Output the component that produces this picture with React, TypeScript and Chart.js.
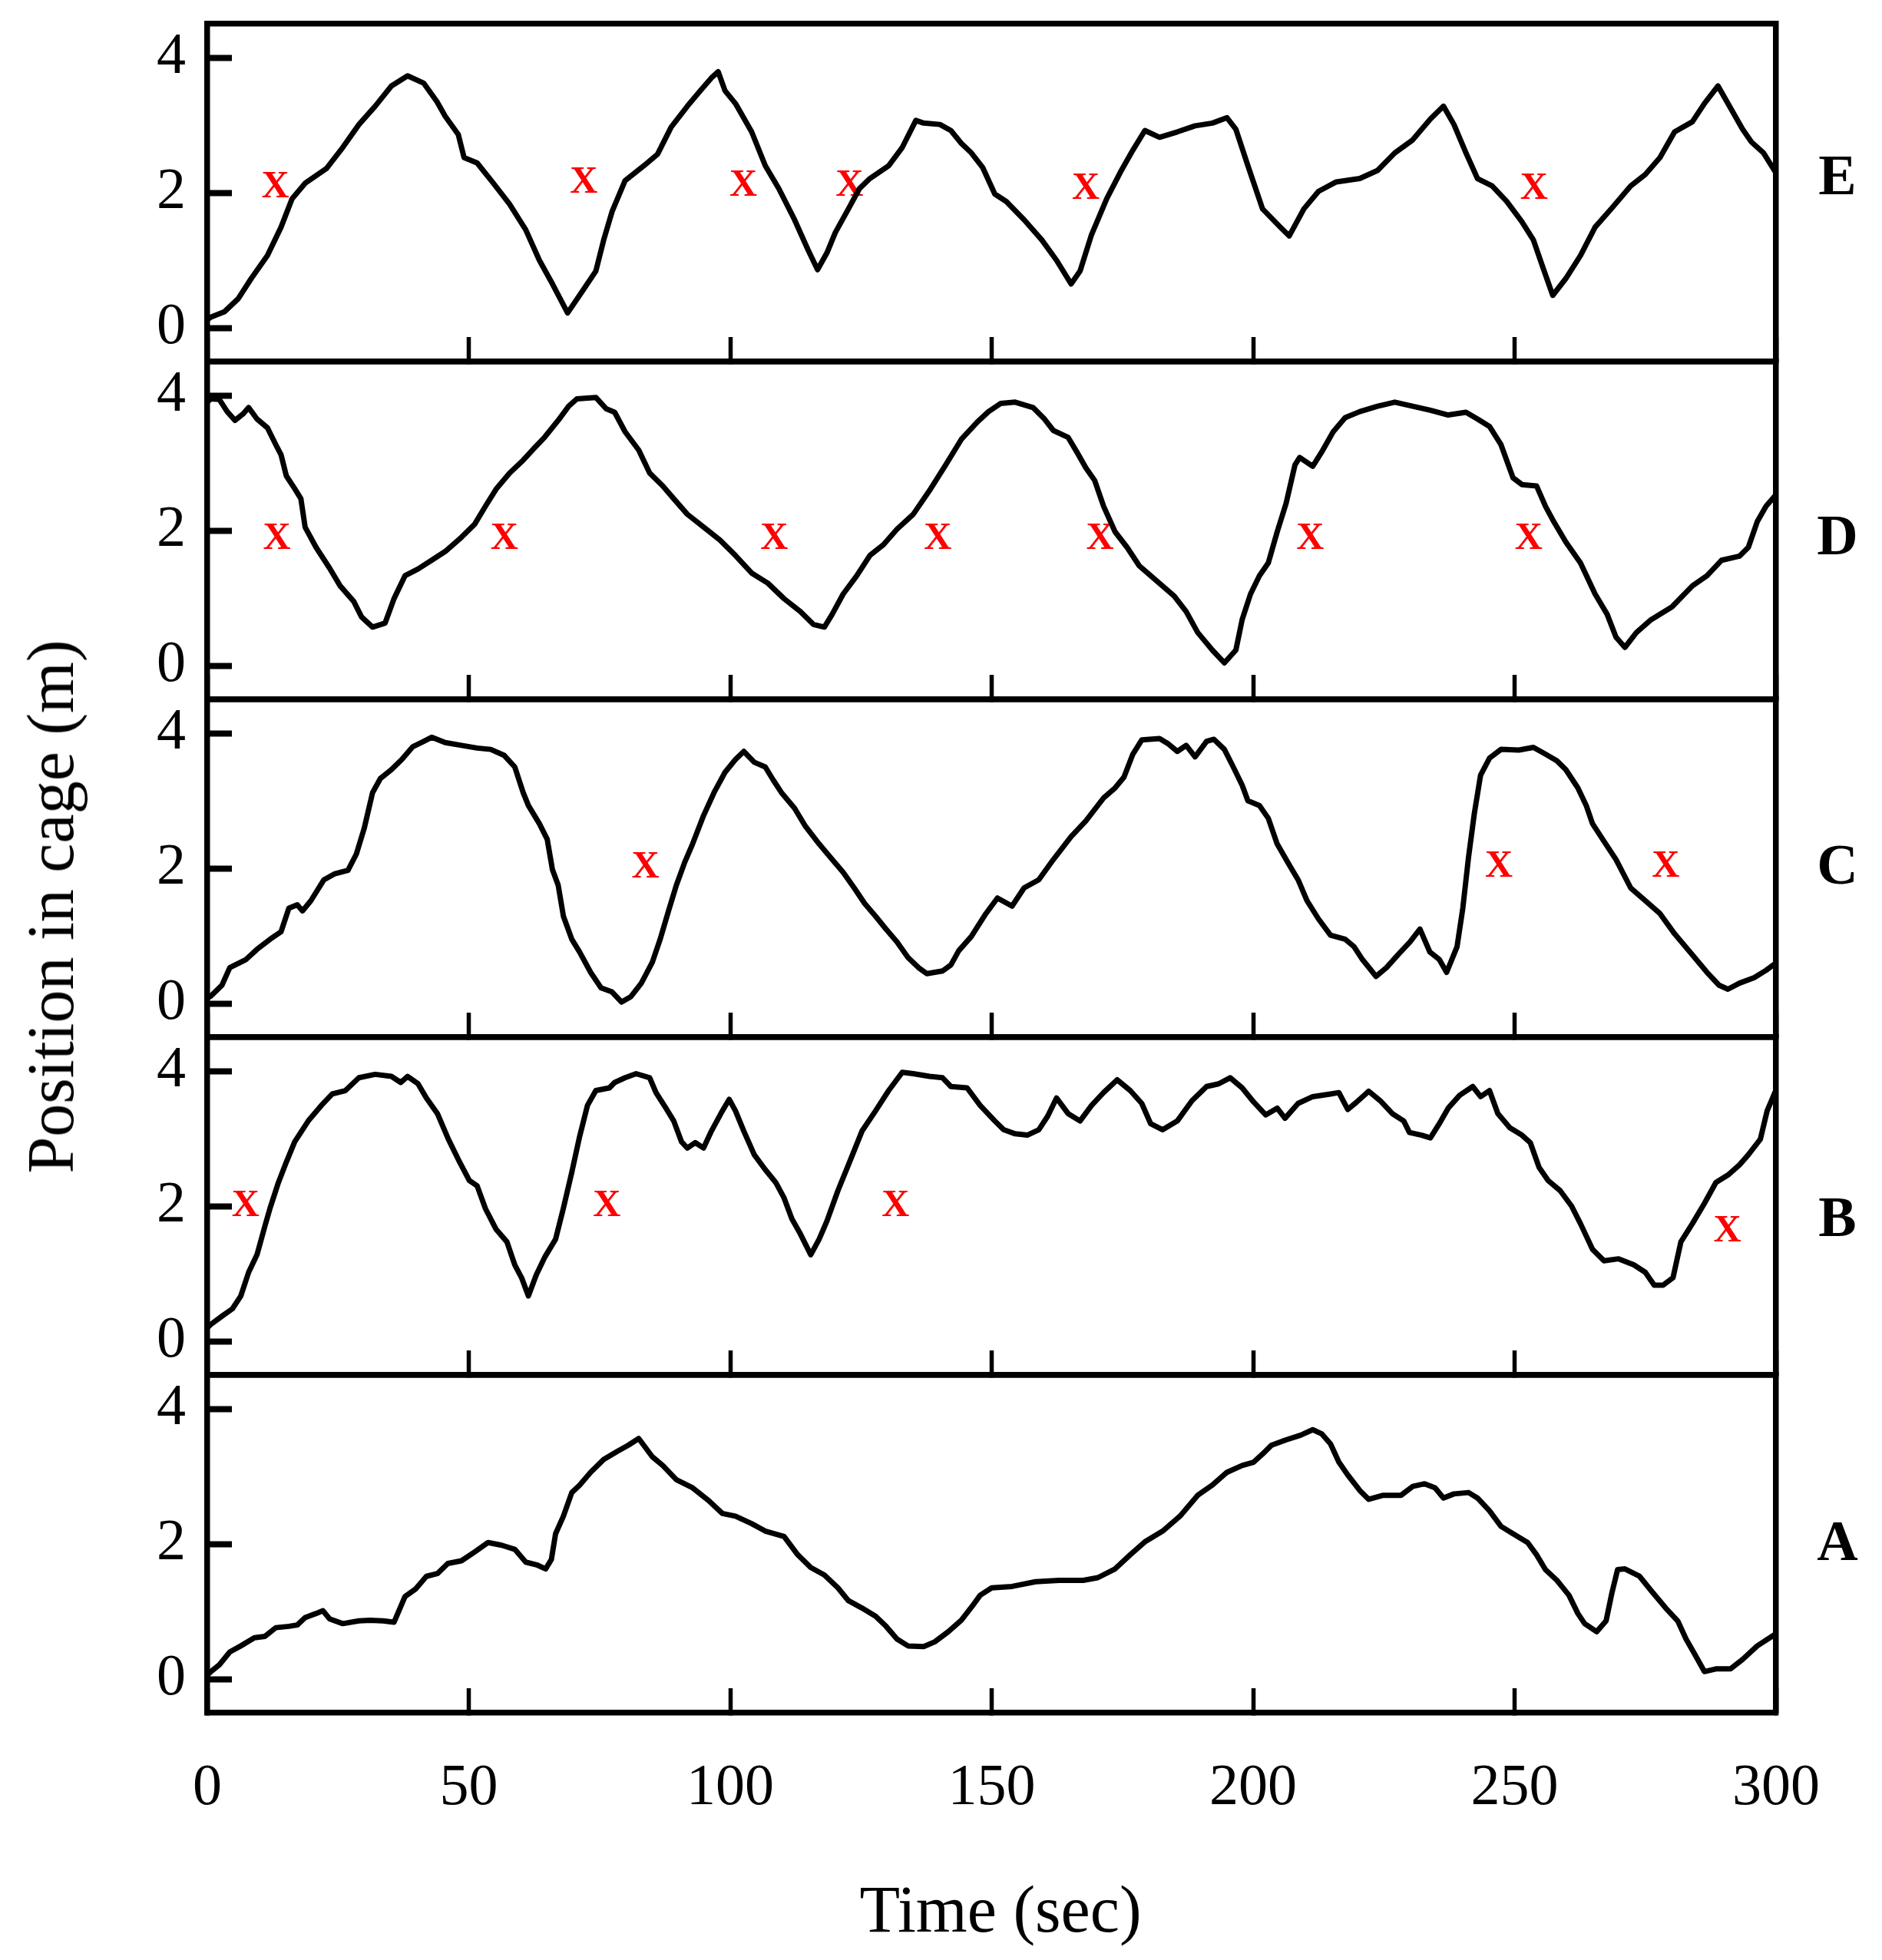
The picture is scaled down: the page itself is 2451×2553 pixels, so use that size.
import React, { useEffect, useRef } from 'react';
import { Chart, registerables } from 'chart.js';

Chart.register(...registerables);

// ---- data: [time (s), position in cage (m)] ----
const timeTicks = [0, 50, 100, 150, 200, 250, 300];
const positionTicks = [0, 2, 4];

const traceE: number[][] = [
  [0, 0.12], [0.7, 0.16], [3.3, 0.24], [5.9, 0.43], [8.4, 0.73], [11.5, 1.07], [14.1, 1.49], [16.2, 1.91],
  [18.7, 2.14], [22.8, 2.36], [25.9, 2.67], [29.0, 3.01], [32.1, 3.28], [35.2, 3.58], [38.3, 3.73], [41.4, 3.62],
  [43.9, 3.35], [45.5, 3.13], [48.0, 2.86], [49.1, 2.52], [51.6, 2.44], [54.7, 2.14], [57.8, 1.83], [60.9, 1.45],
  [63.5, 1.0], [66.0, 0.65], [68.9, 0.22], [71.7, 0.54], [74.3, 0.84], [75.8, 1.3], [77.4, 1.72], [79.9, 2.18],
  [83.5, 2.4], [86.1, 2.57], [88.7, 2.97], [91.8, 3.28], [94.3, 3.51], [96.4, 3.7], [97.7, 3.79], [99.0, 3.51],
  [101.0, 3.32], [104.1, 2.9], [106.7, 2.4], [109.3, 2.06], [112.3, 1.6], [114.9, 1.15], [116.7, 0.86], [118.5, 1.11],
  [120.1, 1.41], [122.6, 1.76], [124.7, 2.06], [126.7, 2.21], [130.3, 2.4], [132.9, 2.67], [135.5, 3.07], [137.0, 3.03],
  [140.1, 3.01], [142.2, 2.92], [144.2, 2.73], [146.1, 2.59], [148.3, 2.37], [150.6, 1.98], [152.8, 1.87], [156.2, 1.6],
  [159.6, 1.3], [162.4, 1.0], [165.2, 0.65], [166.9, 0.84], [169.1, 1.38], [172.0, 1.91], [174.8, 2.33], [177.0, 2.63],
  [179.3, 2.92], [182.1, 2.82], [185.5, 2.9], [188.9, 2.99], [192.2, 3.03], [195.0, 3.11], [196.7, 2.94], [199.0, 2.4],
  [201.8, 1.76], [205.2, 1.49], [206.9, 1.36], [209.7, 1.76], [212.5, 2.02], [215.9, 2.16], [220.4, 2.21], [223.8, 2.33],
  [227.1, 2.59], [230.5, 2.78], [233.9, 3.09], [236.4, 3.28], [238.4, 3.01], [240.7, 2.59], [242.9, 2.21], [245.7, 2.1],
  [248.5, 1.87], [251.4, 1.57], [253.6, 1.3], [255.3, 0.92], [257.3, 0.48], [259.8, 0.73], [262.6, 1.07], [265.4, 1.49],
  [268.8, 1.79], [272.2, 2.1], [275.0, 2.27], [277.8, 2.52], [280.6, 2.9], [284.0, 3.05], [286.3, 3.32], [288.9, 3.58],
  [290.8, 3.32], [293.6, 2.94], [295.3, 2.75], [297.6, 2.59], [300, 2.29],
];

const traceD: number[][] = [
  [0, 3.9], [0.7, 3.95], [2.3, 3.94], [3.8, 3.76], [5.3, 3.63], [6.9, 3.73], [7.9, 3.82], [9.5, 3.65],
  [11.5, 3.52], [13.1, 3.27], [14.1, 3.12], [15.1, 2.81], [16.7, 2.62], [17.9, 2.47], [18.7, 2.05], [20.8, 1.75],
  [23.4, 1.44], [25.4, 1.18], [28.0, 0.95], [29.5, 0.72], [31.6, 0.57], [34.0, 0.63], [35.7, 0.99], [37.8, 1.33],
  [40.3, 1.43], [42.9, 1.56], [45.5, 1.69], [48.6, 1.9], [51.1, 2.09], [53.2, 2.36], [55.3, 2.62], [57.8, 2.85],
  [60.4, 3.04], [62.4, 3.21], [64.5, 3.38], [67.1, 3.63], [69.1, 3.84], [70.7, 3.95], [74.3, 3.97], [76.3, 3.8],
  [77.9, 3.75], [79.9, 3.46], [82.5, 3.19], [84.6, 2.85], [87.1, 2.66], [89.2, 2.47], [91.8, 2.24], [94.9, 2.05],
  [98.0, 1.86], [101.0, 1.63], [104.1, 1.37], [107.2, 1.22], [110.3, 0.99], [113.4, 0.8], [115.9, 0.61], [118.0, 0.57],
  [119.5, 0.76], [121.6, 1.06], [124.2, 1.33], [126.7, 1.63], [129.3, 1.79], [131.9, 2.02], [135.0, 2.24], [138.1, 2.59],
  [141.2, 2.97], [144.2, 3.35], [147.3, 3.61], [149.4, 3.76], [151.7, 3.88], [154.5, 3.9], [157.9, 3.82], [160.1, 3.65],
  [161.8, 3.48], [164.6, 3.38], [166.3, 3.16], [168.0, 2.93], [169.7, 2.74], [171.4, 2.36], [173.6, 1.98], [175.9, 1.75],
  [178.2, 1.48], [181.0, 1.29], [184.9, 1.03], [187.2, 0.8], [189.4, 0.49], [192.2, 0.23], [194.5, 0.04], [196.7, 0.23],
  [197.9, 0.68], [199.5, 1.06], [201.2, 1.33], [202.9, 1.52], [204.6, 1.98], [206.3, 2.4], [208.0, 2.97], [208.9, 3.08],
  [211.4, 2.95], [213.1, 3.16], [215.3, 3.46], [217.6, 3.67], [220.4, 3.76], [223.8, 3.84], [227.1, 3.9], [230.5, 3.84],
  [233.9, 3.78], [237.3, 3.71], [240.7, 3.75], [242.9, 3.65], [245.2, 3.54], [247.4, 3.27], [249.7, 2.78], [251.4, 2.68],
  [254.2, 2.66], [255.9, 2.36], [257.5, 2.13], [259.8, 1.83], [262.6, 1.52], [265.4, 1.06], [267.7, 0.76], [269.4, 0.42],
  [271.1, 0.27], [273.3, 0.49], [276.1, 0.68], [280.1, 0.87], [284.0, 1.18], [286.8, 1.33], [289.6, 1.56], [293.0, 1.62],
  [294.7, 1.75], [296.4, 2.13], [298.1, 2.36], [300, 2.53],
];

const traceC: number[][] = [
  [0, 0.08], [0.7, 0.11], [2.8, 0.27], [4.3, 0.53], [7.4, 0.65], [9.5, 0.8], [12.0, 0.95], [14.1, 1.06],
  [15.6, 1.41], [17.2, 1.46], [18.2, 1.37], [19.8, 1.52], [22.3, 1.83], [24.4, 1.92], [26.9, 1.97], [28.5, 2.21],
  [30.0, 2.59], [31.6, 3.12], [33.1, 3.33], [35.2, 3.46], [37.2, 3.61], [39.3, 3.8], [41.4, 3.88], [42.9, 3.94],
  [45.5, 3.86], [48.6, 3.82], [51.6, 3.78], [54.2, 3.76], [56.8, 3.67], [58.8, 3.5], [60.4, 3.12], [61.4, 2.93],
  [63.5, 2.66], [65.0, 2.43], [66.0, 1.98], [67.1, 1.75], [68.1, 1.29], [69.7, 0.95], [71.2, 0.76], [73.3, 0.46],
  [75.3, 0.23], [77.4, 0.17], [79.2, 0.02], [81.0, 0.1], [83.0, 0.3], [85.1, 0.61], [86.6, 0.95], [88.2, 1.37],
  [89.7, 1.75], [91.3, 2.09], [92.8, 2.36], [94.9, 2.78], [96.9, 3.12], [99.0, 3.42], [101.0, 3.61], [102.6, 3.73],
  [104.6, 3.57], [106.7, 3.5], [108.2, 3.31], [109.8, 3.12], [112.3, 2.89], [114.4, 2.62], [117.0, 2.36], [119.5, 2.13],
  [121.6, 1.94], [123.7, 1.71], [125.7, 1.48], [127.8, 1.29], [129.8, 1.1], [131.9, 0.91], [134.0, 0.68], [136.0, 0.53],
  [137.6, 0.44], [140.6, 0.48], [142.2, 0.57], [143.7, 0.78], [146.1, 0.99], [148.9, 1.33], [151.1, 1.56], [153.9, 1.44],
  [156.2, 1.71], [159.0, 1.83], [161.8, 2.13], [165.2, 2.47], [168.0, 2.7], [171.4, 3.04], [173.6, 3.19], [175.3, 3.35],
  [177.0, 3.69], [178.7, 3.9], [182.1, 3.92], [183.8, 3.84], [185.5, 3.73], [187.2, 3.82], [188.9, 3.65], [191.1, 3.88],
  [192.5, 3.91], [194.5, 3.76], [196.2, 3.5], [197.9, 3.23], [199.0, 3.0], [201.2, 2.93], [202.9, 2.74], [204.6, 2.36],
  [206.9, 2.05], [208.6, 1.83], [210.3, 1.52], [212.5, 1.25], [214.8, 1.01], [217.6, 0.95], [219.3, 0.84], [220.9, 0.65],
  [223.5, 0.4], [225.5, 0.53], [227.7, 0.72], [230.0, 0.91], [231.9, 1.1], [233.8, 0.76], [235.6, 0.65], [237.0, 0.46],
  [239.0, 0.84], [240.1, 1.41], [241.2, 2.17], [242.3, 2.81], [243.5, 3.38], [245.2, 3.63], [247.4, 3.76], [250.8, 3.75],
  [253.6, 3.79], [255.9, 3.69], [258.1, 3.59], [259.8, 3.46], [262.1, 3.19], [263.7, 2.93], [264.9, 2.66], [267.1, 2.4],
  [269.4, 2.13], [272.2, 1.71], [274.4, 1.56], [277.8, 1.33], [280.6, 1.03], [284.0, 0.72], [286.8, 0.46], [289.1, 0.27],
  [290.8, 0.21], [293.0, 0.3], [295.8, 0.38], [298.1, 0.49], [300, 0.6],
];

const traceB: number[][] = [
  [0, 0.2], [0.7, 0.25], [2.8, 0.37], [4.8, 0.48], [6.4, 0.67], [7.9, 1.02], [9.5, 1.28], [11.0, 1.7],
  [12.0, 1.97], [13.6, 2.35], [15.1, 2.65], [16.7, 2.95], [19.3, 3.26], [21.8, 3.49], [23.9, 3.66], [26.4, 3.71],
  [29.0, 3.9], [32.1, 3.95], [35.2, 3.92], [37.0, 3.83], [38.3, 3.92], [40.3, 3.81], [41.9, 3.6], [44.0, 3.37],
  [46.1, 2.99], [48.0, 2.69], [50.1, 2.38], [51.6, 2.3], [53.2, 1.96], [55.2, 1.66], [57.3, 1.47], [58.8, 1.13],
  [60.1, 0.94], [61.4, 0.67], [62.9, 0.98], [64.5, 1.24], [66.6, 1.51], [68.1, 1.97], [69.7, 2.5], [71.2, 3.03],
  [72.7, 3.49], [74.3, 3.71], [76.9, 3.75], [77.9, 3.83], [79.9, 3.9], [82.0, 3.96], [84.6, 3.9], [85.8, 3.68],
  [87.7, 3.45], [89.2, 3.26], [90.7, 2.95], [91.8, 2.86], [93.3, 2.94], [94.9, 2.86], [96.4, 3.11], [98.5, 3.41],
  [99.8, 3.58], [101.0, 3.41], [102.6, 3.11], [104.6, 2.76], [106.7, 2.54], [108.7, 2.35], [110.3, 2.12], [111.8, 1.81],
  [113.4, 1.59], [115.4, 1.28], [117.0, 1.51], [118.5, 1.78], [120.6, 2.23], [122.6, 2.61], [125.2, 3.11], [127.8, 3.41],
  [130.3, 3.71], [132.9, 3.98], [135.0, 3.96], [138.1, 3.92], [140.6, 3.9], [142.2, 3.77], [145.3, 3.75], [147.8, 3.49],
  [150.6, 3.26], [152.3, 3.13], [154.5, 3.07], [156.8, 3.05], [159.0, 3.13], [160.7, 3.33], [162.4, 3.6], [164.6, 3.37],
  [166.9, 3.26], [169.1, 3.49], [171.4, 3.68], [174.0, 3.87], [176.5, 3.71], [178.7, 3.52], [180.4, 3.22], [182.7, 3.13],
  [185.5, 3.26], [188.3, 3.56], [191.1, 3.77], [193.4, 3.81], [195.6, 3.9], [197.9, 3.75], [200.1, 3.54], [202.4, 3.35],
  [204.6, 3.45], [206.1, 3.3], [208.6, 3.52], [211.4, 3.62], [214.8, 3.66], [216.4, 3.68], [218.1, 3.43], [219.8, 3.54],
  [222.1, 3.7], [224.3, 3.56], [226.6, 3.37], [228.8, 3.26], [229.9, 3.09], [232.2, 3.05], [233.9, 3.01], [235.6, 3.22],
  [237.3, 3.45], [239.5, 3.64], [242.0, 3.77], [243.5, 3.62], [245.2, 3.71], [246.8, 3.37], [249.1, 3.16], [251.4, 3.05],
  [253.0, 2.94], [254.7, 2.57], [256.4, 2.38], [258.7, 2.23], [260.9, 2.0], [262.6, 1.74], [264.9, 1.36], [267.1, 1.19],
  [269.9, 1.22], [272.8, 1.13], [275.0, 1.02], [276.7, 0.83], [278.4, 0.83], [280.3, 0.94], [281.8, 1.47], [284.0, 1.74],
  [286.3, 2.04], [288.5, 2.35], [290.8, 2.46], [293.0, 2.61], [294.7, 2.76], [297.0, 2.99], [298.3, 3.41], [300, 3.72],
];

const traceA: number[][] = [
  [0, 0.06], [0.7, 0.11], [2.3, 0.21], [4.3, 0.4], [6.4, 0.49], [9.0, 0.61], [11.0, 0.63], [13.1, 0.76],
  [15.6, 0.78], [17.2, 0.8], [18.7, 0.91], [20.8, 0.97], [22.1, 1.01], [23.4, 0.89], [25.9, 0.82], [29.0, 0.86],
  [31.1, 0.87], [33.6, 0.86], [35.7, 0.84], [37.8, 1.22], [39.8, 1.33], [41.9, 1.52], [44.0, 1.56], [46.0, 1.71],
  [48.6, 1.75], [51.1, 1.88], [53.7, 2.02], [56.3, 1.98], [58.8, 1.92], [60.9, 1.73], [63.0, 1.69], [64.7, 1.63],
  [65.8, 1.77], [66.6, 2.15], [68.1, 2.41], [69.7, 2.76], [71.2, 2.87], [73.3, 3.06], [75.8, 3.25], [78.4, 3.37],
  [80.5, 3.46], [82.5, 3.56], [85.1, 3.29], [87.1, 3.16], [89.7, 2.95], [92.8, 2.83], [95.9, 2.64], [98.5, 2.45],
  [101.0, 2.41], [104.1, 2.3], [106.7, 2.19], [110.3, 2.11], [112.9, 1.84], [115.4, 1.65], [118.0, 1.54], [120.6, 1.35],
  [122.6, 1.16], [125.2, 1.05], [127.8, 0.93], [129.8, 0.78], [131.9, 0.59], [134.0, 0.49], [137.0, 0.48], [139.1, 0.55],
  [141.7, 0.7], [144.2, 0.87], [146.3, 1.08], [147.8, 1.24], [150.0, 1.35], [153.9, 1.37], [158.4, 1.44], [162.9, 1.46],
  [167.5, 1.46], [170.3, 1.5], [173.6, 1.63], [176.5, 1.84], [179.3, 2.03], [182.7, 2.19], [186.0, 2.41], [189.4, 2.72],
  [192.2, 2.87], [195.0, 3.06], [197.9, 3.16], [200.1, 3.21], [201.8, 3.33], [203.5, 3.46], [206.3, 3.54], [209.1, 3.61],
  [211.4, 3.69], [213.1, 3.63], [214.8, 3.48], [216.4, 3.21], [218.1, 3.02], [220.4, 2.79], [222.1, 2.66], [224.9, 2.72],
  [228.3, 2.72], [230.5, 2.85], [232.8, 2.89], [234.8, 2.83], [236.4, 2.68], [238.4, 2.74], [241.2, 2.76], [242.9, 2.68],
  [245.2, 2.49], [247.4, 2.26], [249.7, 2.15], [252.5, 2.02], [254.2, 1.84], [255.9, 1.62], [258.1, 1.46], [260.4, 1.24],
  [262.1, 0.97], [263.4, 0.82], [265.7, 0.7], [267.5, 0.86], [268.6, 1.27], [269.7, 1.62], [271.1, 1.63], [273.9, 1.52],
  [276.1, 1.31], [278.9, 1.05], [281.2, 0.86], [282.8, 0.59], [284.5, 0.36], [286.3, 0.11], [288.5, 0.15], [291.3, 0.15],
  [293.6, 0.29], [296.4, 0.49], [300, 0.67],
];

// red "X" marks: time (s) and position (m)
const markTimesE = [13.0, 72.0, 102.5, 122.8, 168.0, 253.7];
const markPositionsE = [2.08, 2.15, 2.1, 2.1, 2.06, 2.06];
const markTimesD = [13.3, 56.8, 108.4, 139.7, 170.7, 210.9, 252.7];
const markPositionsD = [1.87, 1.87, 1.87, 1.87, 1.87, 1.87, 1.87];
const markTimesC = [83.8, 247.0, 278.9];
const markPositionsC = [2.01, 2.02, 2.02];
const markTimesB = [7.3, 76.4, 131.6, 290.7];
const markPositionsB = [2.0, 2.0, 2.0, 1.62];
const markTimesA: number[] = [];
const markPositionsA: number[] = [];

type PanelDef = {
  label: string;
  trace: number[][];
  markTimes: number[];
  markPositions: number[];
  labelAt: number;
};

const panels: PanelDef[] = [
  { label: 'E', trace: traceE, markTimes: markTimesE, markPositions: markPositionsE, labelAt: 2.2 },
  { label: 'D', trace: traceD, markTimes: markTimesD, markPositions: markPositionsD, labelAt: 1.86 },
  { label: 'C', trace: traceC, markTimes: markTimesC, markPositions: markPositionsC, labelAt: 1.99 },
  { label: 'B', trace: traceB, markTimes: markTimesB, markPositions: markPositionsB, labelAt: 1.77 },
  { label: 'A', trace: traceA, markTimes: markTimesA, markPositions: markPositionsA, labelAt: 1.98 },
];

// ---- layout ----
const PAGE_W = 2451;
const PAGE_H = 2553;
const PLOT_LEFT = 270;
const PLOT_RIGHT = 2313;
const FIRST_TOP = 31;
const PANEL_H = 440;
const MARGIN = 40;
const FRAME_W = 7.5;
const SERIF = '"Liberation Serif", "Times New Roman", Times, serif';

function PanelChart({ panel, index, last }: { panel: PanelDef; index: number; last: boolean }) {
  const ref = useRef<HTMLCanvasElement | null>(null);
  const top = FIRST_TOP + index * PANEL_H - MARGIN;
  const height = last ? PAGE_H - top : PANEL_H + 2 * MARGIN;

  useEffect(() => {
    const canvas = ref.current;
    if (!canvas) return;

    const marks = {
      id: 'panelMarks',
      beforeDatasetsDraw(chart: any) {
        const { ctx, scales } = chart;
        ctx.save();
        ctx.fillStyle = '#ff0000';
        ctx.font = `bold 50px ${SERIF}`;
        ctx.textAlign = 'center';
        ctx.textBaseline = 'middle';
        panel.markTimes.forEach((t, i) => {
          ctx.fillText('X', scales.x.getPixelForValue(t), scales.y.getPixelForValue(panel.markPositions[i]));
        });
        ctx.restore();
      },
      afterDraw(chart: any) {
        const { ctx, scales, chartArea } = chart;
        ctx.save();
        ctx.fillStyle = '#000';
        ctx.font = `bold 74px ${SERIF}`;
        ctx.textAlign = 'center';
        ctx.textBaseline = 'middle';
        ctx.fillText(panel.label, chartArea.right + 80, scales.y.getPixelForValue(panel.labelAt));
        ctx.restore();
      },
    };

    const frame = { display: true, width: FRAME_W, color: '#000' };

    const chart = new Chart(canvas, {
      type: 'line',
      data: {
        datasets: [
          {
            data: panel.trace.map(([t, p]) => ({ x: t, y: p })),
            borderColor: '#000',
            borderWidth: 7,
            pointRadius: 0,
            tension: 0,
            fill: false,
            borderJoinStyle: 'round',
            borderCapStyle: 'round',
          },
        ],
      },
      options: {
        responsive: false,
        animation: false,
        devicePixelRatio: 1,
        events: [],
        layout: { padding: { top: MARGIN, bottom: last ? 0 : MARGIN, left: 0, right: 0 } },
        plugins: { legend: { display: false }, tooltip: { enabled: false }, title: { display: false } },
        scales: {
          x: {
            type: 'linear',
            axis: 'x',
            position: 'bottom',
            min: 0,
            max: 300,
            afterBuildTicks: (s: any) => {
              s.ticks = timeTicks.map((v) => ({ value: v }));
            },
            afterFit: (s: any) => {
              s.height = last ? height - MARGIN - PANEL_H : 0;
              s.paddingLeft = 0;
              s.paddingRight = 0;
            },
            grid: { display: true, drawOnChartArea: false, drawTicks: true, tickLength: -32, tickWidth: 5.5, tickColor: '#000' },
            border: frame,
            ticks: {
              display: last,
              padding: 85,
              autoSkip: false,
              minRotation: 0,
              maxRotation: 0,
              color: '#000',
              font: { family: SERIF, size: 76 },
            },
          },
          xTop: {
            type: 'linear',
            axis: 'x',
            position: 'top',
            min: 0,
            max: 300,
            afterFit: (s: any) => {
              s.height = 0;
              s.paddingLeft = 0;
              s.paddingRight = 0;
            },
            grid: { display: false, drawTicks: false },
            ticks: { display: false },
            border: frame,
          },
          y: {
            type: 'linear',
            axis: 'y',
            position: 'left',
            min: -0.5,
            max: 4.5,
            afterBuildTicks: (s: any) => {
              s.ticks = positionTicks.map((v) => ({ value: v }));
            },
            afterFit: (s: any) => {
              s.width = PLOT_LEFT;
              s.paddingTop = 0;
              s.paddingBottom = 0;
            },
            grid: { display: true, drawOnChartArea: false, drawTicks: true, tickLength: -32, tickWidth: 8, tickColor: '#000' },
            border: frame,
            ticks: { padding: 60, color: '#000', font: { family: SERIF, size: 76 } },
          },
          yRight: {
            type: 'linear',
            axis: 'y',
            position: 'right',
            min: -0.5,
            max: 4.5,
            afterFit: (s: any) => {
              s.width = PAGE_W - PLOT_RIGHT;
              s.paddingTop = 0;
              s.paddingBottom = 0;
            },
            grid: { display: false, drawTicks: false },
            ticks: { display: false },
            border: frame,
          },
        },
      } as any,
      plugins: [marks],
    });

    return () => chart.destroy();
  }, [panel, index, last, height]);

  return (
    <canvas
      ref={ref}
      width={PAGE_W}
      height={height}
      style={{ position: 'absolute', left: 0, top, width: PAGE_W, height }}
    />
  );
}

export default function App() {
  return (
    <div
      style={{
        position: 'absolute',
        left: 0,
        top: 0,
        width: PAGE_W,
        height: PAGE_H,
        background: '#fff',
        overflow: 'hidden',
      }}
    >
      {panels.map((p, i) => (
        <PanelChart key={p.label} panel={p} index={i} last={i === panels.length - 1} />
      ))}
      <div
        style={{
          position: 'absolute',
          left: 66,
          top: 1181,
          transform: 'translate(-50%, -50%) rotate(-90deg)',
          font: `86px ${SERIF}`,
          lineHeight: 1,
          whiteSpace: 'nowrap',
          color: '#000',
        }}
      >
        Position in cage (m)
      </div>
      <div
        style={{
          position: 'absolute',
          left: 1303,
          top: 2487,
          transform: 'translate(-50%, -50%)',
          font: `86px ${SERIF}`,
          lineHeight: 1,
          whiteSpace: 'nowrap',
          color: '#000',
        }}
      >
        Time (sec)
      </div>
    </div>
  );
}
